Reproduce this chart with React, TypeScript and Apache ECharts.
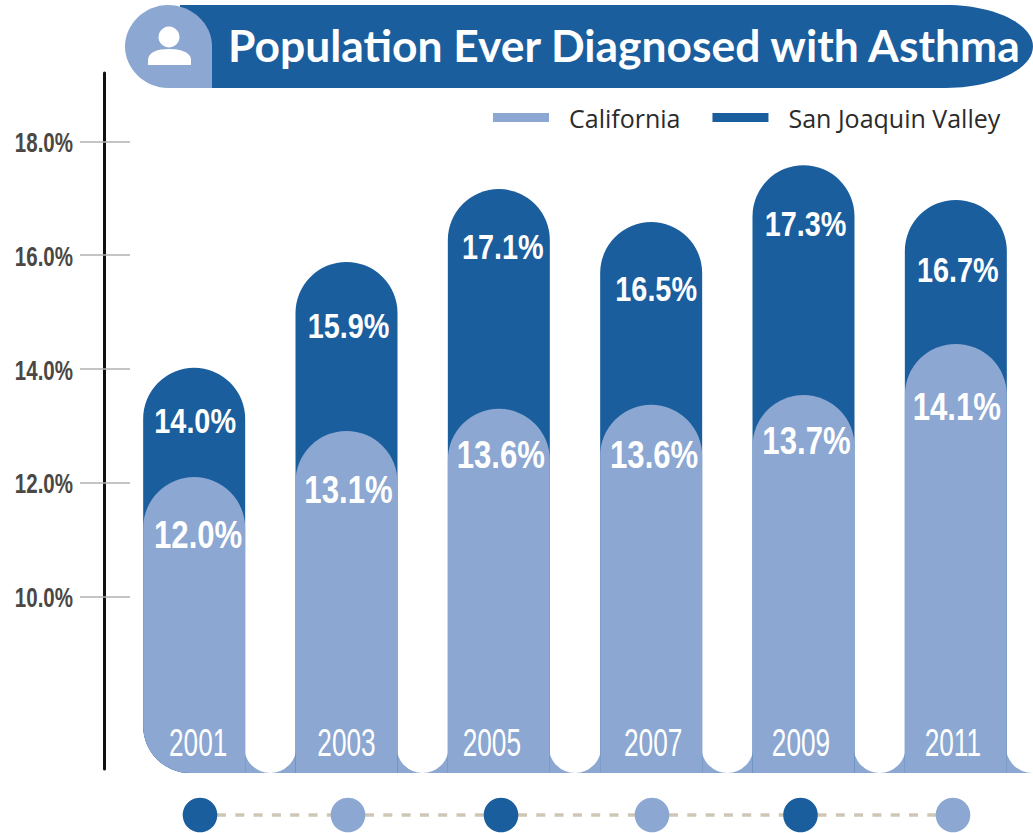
import React, { useEffect, useRef } from "react";
import * as echarts from "echarts";

const years = ["2001", "2003", "2005", "2007", "2009", "2011"];
const seriesNames = ["California", "San Joaquin Valley"];
const californiaHeights = [12.1, 12.91, 13.3, 13.37, 13.54, 14.44];
const valleyHeights = [14.02, 15.88, 17.16, 16.58, 17.58, 16.97];
const californiaLabels = ["12.0%", "13.1%", "13.6%", "13.6%", "13.7%", "14.1%"];
const valleyLabels = ["14.0%", "15.9%", "17.1%", "16.5%", "17.3%", "16.7%"];
const tickValues = [10, 12, 14, 16, 18];

const californiaLabelDrop = [58, 59, 46, 50, 46, 63];
const valleyLabelDrop = [53, 63, 57, 66, 58, 69];
const californiaNudge = [4, 2, 2, 3, 3, 1];
const valleyNudge = [1, 2, 4, 5, 2, 2];
const yearNudge = [4, 0, -7, 2, -2.5, -3];
const dotX = [200, 348, 501, 652, 800.5, 953];
const gapEdges = [245, 295.5, 397.5, 447.8, 549.8, 600.2, 702.2, 752.5, 854.5, 904.8, 1006.8, 1058];

const DARK = "#1a5e9e";
const LIGHT = "#8ca7d1";
const SANS = "'Liberation Sans', sans-serif";

export default function App() {
  const ref = useRef<HTMLDivElement>(null);
  useEffect(() => {
    const chart = echarts.init(ref.current!, undefined, { renderer: "svg" });
    echarts.graphic.registerShape("bannerDark", echarts.graphic.extendPath(
      "M180 5 L946 5 C994 5 1033 24 1033 46.5 C1033 69 994 88 946 88 L180 88 Z", {}) as any);
    echarts.graphic.registerShape("bannerLight", echarts.graphic.extendPath(
      "M212 88 L168 88 C145 88 125 69 125 46.5 C125 24 145 5 168 5 C192 5 212 24 212 46 Z", {}) as any);
    echarts.graphic.registerShape("personBody", echarts.graphic.extendPath(
      "M148 65 L148 60 C148 52 158 49 169 49 C180 49 191 52 191 60 L191 65 Z", {}) as any);

    const slots: any[] = [];
    for (let i = 0; i < gapEdges.length; i += 2) {
      const w = gapEdges[i + 1] - gapEdges[i] + 2;
      slots.push({
        type: "rect", z: 1,
        shape: { x: gapEdges[i] - 1, y: 720, width: w, height: 53, r: [0, 0, w / 2, w / 2] },
        style: { fill: "#fff" },
      });
    }
    const dashes = dotX.slice(0, -1).map((x, i) => ({
      type: "line", z: 1,
      shape: { x1: x + 17, y1: 815, x2: dotX[i + 1] - 17, y2: 815 },
      style: { stroke: "#cfc7b5", lineWidth: 3.5, lineDash: [9, 9.3] },
    }));
    const dots = dotX.map((x, i) => ({
      type: "circle", z: 2,
      shape: { cx: x, cy: 815, r: 17.3 },
      style: { fill: i % 2 === 0 ? DARK : LIGHT },
    }));

    const barItems = (vals: number[]) =>
      vals.map((v, i) => ({
        value: v,
        itemStyle: { borderRadius: [51, 51, 0, i === 0 ? 47 : 0] },
      }));

    // Condensed labels: no condensed face is installed, so the text is narrowed with scaleX.
    const textSeries = (
      heights: number[],
      texts: string[],
      nudge: number[],
      y: (i: number, top: number) => number,
      fontSize: number,
      fontWeight: string,
      scaleX: number,
    ) => ({
      type: "custom",
      coordinateSystem: "cartesian2d",
      clip: false,
      silent: true,
      z: 6,
      encode: { x: 0, y: 1 },
      data: heights.map((h, i) => [i, h]),
      renderItem: (params: any, api: any) => {
        const i = params.dataIndex;
        const p = api.coord([api.value(0), api.value(1)]);
        return {
          type: "text",
          x: p[0] + nudge[i],
          y: y(i, p[1]),
          scaleX,
          style: {
            text: texts[i], fill: "#fff", fontFamily: SANS, fontSize, fontWeight,
            align: "center", verticalAlign: "middle",
          },
        };
      },
    });

    const tickLabelSeries = {
      type: "custom",
      coordinateSystem: "cartesian2d",
      clip: false,
      silent: true,
      z: 6,
      encode: { x: 0, y: 1 },
      data: tickValues.map((v) => [0, v]),
      renderItem: (_params: any, api: any) => {
        const p = api.coord([0, api.value(1)]);
        return {
          type: "text",
          x: 73,
          y: p[1] + 1,
          scaleX: 0.76,
          style: {
            text: api.value(1).toFixed(1) + "%", fill: "#4a4744", fontFamily: SANS, fontSize: 27,
            fontWeight: "bold", align: "right", verticalAlign: "middle",
          },
        };
      },
    };

    chart.setOption({
      animation: false,
      backgroundColor: "#fff",
      title: {
        text: "Population Ever Diagnosed with Asthma",
        left: 228, top: 18, padding: 0,
        textStyle: { color: "#fff", fontFamily: "Lato", fontWeight: "bold", fontSize: 44.4, lineHeight: 52 },
        z: 10,
      },
      legend: {
        data: seriesNames,
        left: 493, top: 105, padding: 0,
        icon: "rect", itemWidth: 56, itemHeight: 9, itemGap: 32,
        textStyle: { color: "#2b2b2b", fontFamily: "Open Sans", fontSize: 25, padding: [0, 0, 0, 15] },
      },
      grid: [
        { left: 118, width: 914, top: 73, height: 700 },
        { left: 104, width: 10, top: 73, height: 696 },
      ],
      xAxis: [
        {
          type: "category", gridIndex: 0, data: years,
          axisLine: { show: false }, axisTick: { show: false }, axisLabel: { show: false },
        },
        { type: "category", gridIndex: 1, show: false, data: years },
      ],
      yAxis: [
        {
          type: "value", gridIndex: 0, min: 6.9, max: 19.2, offset: -12,
          splitLine: { show: false }, axisLine: { show: false },
          axisTick: { show: true, length: 50, lineStyle: { color: "#b0b0b0", width: 1.5 }, customValues: tickValues },
          axisLabel: { show: false },
        },
        {
          type: "value", gridIndex: 1, min: 0, max: 1,
          splitLine: { show: false },
          axisLine: { show: true, lineStyle: { color: "#111", width: 3 } },
          axisTick: { show: false }, axisLabel: { show: false },
        },
      ],
      series: [
        {
          name: seriesNames[1], type: "bar", barWidth: 102, barGap: "-100%", z: 2,
          itemStyle: { color: DARK },
          data: barItems(valleyHeights),
        },
        {
          name: seriesNames[0], type: "bar", barWidth: 102, barGap: "-100%", z: 3,
          itemStyle: { color: LIGHT },
          data: barItems(californiaHeights),
        },
        textSeries(valleyHeights, valleyLabels, valleyNudge, (i, top) => top + valleyLabelDrop[i], 36, "bold", 0.8),
        textSeries(californiaHeights, californiaLabels, californiaNudge, (i, top) => top + californiaLabelDrop[i], 38, "bold", 0.82),
        textSeries(californiaHeights, years, yearNudge, () => 743, 38, "normal", 0.69),
        tickLabelSeries,
      ],
      graphic: [
        { type: "bannerDark", z: 1, x: 0, y: 0, style: { fill: DARK } },
        { type: "bannerLight", z: 2, x: 0, y: 0, style: { fill: LIGHT } },
        { type: "circle", z: 3, shape: { cx: 169, cy: 37, r: 10.5 }, style: { fill: "#fff" } },
        { type: "personBody", z: 3, x: 0, y: 0, style: { fill: "#fff" } },
        {
          type: "rect", z: 0,
          shape: { x: 143.2, y: 725, width: 890, height: 48, r: [0, 0, 0, 47] },
          style: { fill: LIGHT },
        },
        ...slots,
        ...dashes,
        ...dots,
      ],
    });
    return () => chart.dispose();
  }, []);
  return <div ref={ref} style={{ position: "absolute", left: 0, top: 0, width: 1033, height: 833 }} />;
}
